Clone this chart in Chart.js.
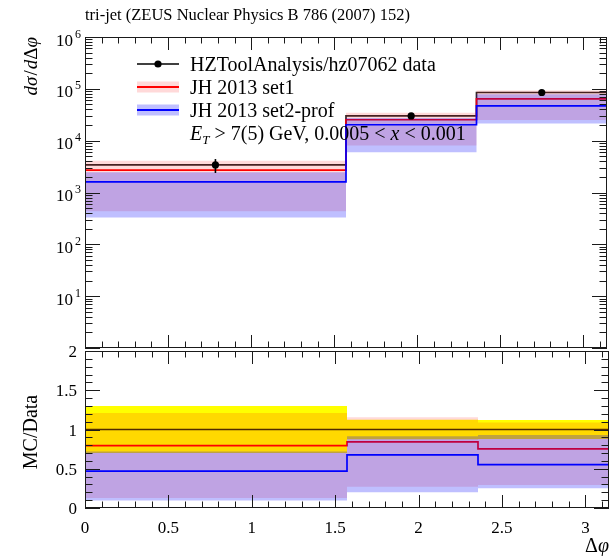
<!DOCTYPE html>
<html><head><meta charset="utf-8">
<script src="https://cdn.jsdelivr.net/npm/chart.js@4/dist/chart.umd.min.js"></script>
<style>
html,body{margin:0;padding:0;background:#fff;}
#wrap{position:relative;width:611px;height:556px;overflow:hidden;}
#c1{position:absolute;left:0;top:0;}
#c2{position:absolute;left:0;top:340px;}
</style></head><body>
<div id="wrap"><canvas id="c1" width="611" height="352"></canvas><canvas id="c2" width="611" height="216"></canvas></div>
<script>
// ---- data ----
const binEdges   = [0, 1.5708, 2.3562, 3.1416];
const binCenters = [0.785, 1.963, 2.749];
const dataValues = [3400, 30000, 85000];
const dataErrors = [1020, 3700, 10200];
const set1Values = [2700, 25300, 64000];
const set1Lower  = [435, 8100, 25000];
const set1Upper  = [4110, 34700, 92600];
const set2Values = [1600, 20300, 47000];
const set2Lower  = [330, 6000, 21400];
const set2Upper  = [2450, 27400, 79000];
const mainYExponents = [1, 2, 3, 4, 5, 6];
const ratioYTicks = ['0', '0.5', '1', '1.5', '2'];
const xTickLabels = ['0', '0.5', '1', '1.5', '2', '2.5', '3'];
const titleText = 'tri-jet (ZEUS Nuclear Physics B 786 (2007) 152)';
const legendLabels = ['HZToolAnalysis/hz07062 data', 'JH 2013 set1', 'JH 2013 set2-prof'];

const FONT = '"Liberation Serif", "DejaVu Serif", serif';

function stepPoints(vals){
  const p = vals.map((v,i)=>({x:binEdges[i], y:v}));
  p.push({x:binEdges[binEdges.length-1], y:vals[vals.length-1]});
  return p;
}
const NONE = 'rgba(0,0,0,0)';
const STEP = 'before';
function bandLower(vals, order){ return {data:stepPoints(vals), stepped:STEP, borderColor:NONE, borderWidth:0, pointRadius:0, fill:false, order}; }
function bandUpper(vals, target, color, order){ return {data:stepPoints(vals), stepped:STEP, borderColor:NONE, borderWidth:0, pointRadius:0, fill:{target}, backgroundColor:color, order}; }
function stepLine(vals, color, order, w){ return {data:stepPoints(vals), stepped:STEP, borderColor:color, borderWidth:w||1.7, pointRadius:0, fill:false, order}; }

const RED_BAND = 'rgba(255,0,0,0.15)';
const BLUE_BAND = 'rgba(0,0,255,0.25)';

function line(ctx,x1,y1,x2,y2){ctx.beginPath();ctx.moveTo(x1,y1);ctx.lineTo(x2,y2);ctx.stroke();}

function frameAndTicks(chart, yMaj, yMin, xMaj, xMin){
  const {ctx, chartArea:a} = chart; const sx = chart.scales.x, sy = chart.scales.y;
  ctx.save();
  ctx.strokeStyle = '#1a1a1a'; ctx.lineWidth = 1;
  const MAJ = 15, MIN = 7.5, XMAJ = 13, XMIN = 6.5;
  yMaj.forEach(v=>{const p=Math.round(sy.getPixelForValue(v))+0.5; line(ctx,a.left,p,a.left+MAJ,p); line(ctx,a.right,p,a.right-MAJ,p);});
  yMin.forEach(v=>{const p=Math.round(sy.getPixelForValue(v))+0.5; line(ctx,a.left,p,a.left+MIN,p); line(ctx,a.right,p,a.right-MIN,p);});
  xMaj.forEach(v=>{const p=Math.round(sx.getPixelForValue(v))+0.5; line(ctx,p,a.bottom,p,a.bottom-XMAJ); line(ctx,p,a.top,p,a.top+XMAJ);});
  xMin.forEach(v=>{const p=Math.round(sx.getPixelForValue(v))+0.5; line(ctx,p,a.bottom,p,a.bottom-XMIN); line(ctx,p,a.top,p,a.top+XMIN);});
  ctx.strokeRect(a.left+0.5, a.top+0.5, a.right-a.left-1, a.bottom-a.top-1);
  ctx.restore();
}
const xMajorVals = xTickLabels.map(Number);
const xMinorVals = []; for(let i=1;i<=31;i++){ if(i%5!==0) xMinorVals.push(i/10); }

// ---- main chart ----
const mainPlugin = {
  id:'mainDecor',
  afterDatasetsDraw(chart){
    const {ctx} = chart; const sx=chart.scales.x, sy=chart.scales.y;
    ctx.save(); ctx.strokeStyle='#000'; ctx.lineWidth=1.6;
    binCenters.forEach((c,i)=>{
      const px=sx.getPixelForValue(c);
      line(ctx,px,sy.getPixelForValue(dataValues[i]-dataErrors[i]),px,sy.getPixelForValue(dataValues[i]+dataErrors[i]));
    });
    ctx.restore();
  },
  afterDraw(chart){
    const {ctx} = chart; const sy=chart.scales.y;
    const yMaj=[], yMin=[];
    for(let e=0;e<=6;e++){ yMaj.push(Math.pow(10,e)); if(e<6) for(let k=2;k<=9;k++) yMin.push(k*Math.pow(10,e)); }
    frameAndTicks(chart, yMaj, yMin, xMajorVals, xMinorVals);
    ctx.save();
    ctx.fillStyle='#000';
    // y tick labels
    mainYExponents.forEach(e=>{
      const y = sy.getPixelForValue(Math.pow(10,e));
      ctx.font = '12px '+FONT; const sup=String(e); const sw=ctx.measureText(sup).width;
      ctx.textAlign='left'; ctx.fillText(sup, 81-sw, y+0.5);
      ctx.font = '17px '+FONT; ctx.textAlign='right'; ctx.fillText('10', 81-sw-2, y+8.5);
    });
    // title
    ctx.font = '16.5px '+FONT; ctx.textAlign='left'; ctx.fillText(titleText, 85, 20);
    // y axis title
    ctx.save(); ctx.translate(37, 37); ctx.rotate(-Math.PI/2);
    ctx.textAlign='left';
    const parts=[['d','italic'],['σ','italic'],['/',''],['d','italic'],['Δ',''],['φ','italic']];
    let total=0; parts.forEach(p=>{ctx.font=(p[1]?p[1]+' ':'')+'19px '+FONT; total+=ctx.measureText(p[0]).width+ (p[0]==='/'?2:0);});
    let xx=-total;
    parts.forEach(p=>{ctx.font=(p[1]?p[1]+' ':'')+'19px '+FONT; ctx.fillText(p[0], xx + (p[0]==='/'?1:0), 0); xx+=ctx.measureText(p[0]).width+(p[0]==='/'?2:0);});
    ctx.restore();
    // legend
    const LX0=137, LX1=179, TX=190;
    ctx.font='20px '+FONT; ctx.textAlign='left';
    // row 1 data
    ctx.strokeStyle='#000'; ctx.lineWidth=1.7; line(ctx,LX0,64,LX1,64);
    ctx.beginPath(); ctx.arc(158,64,3.6,0,Math.PI*2); ctx.fill();
    ctx.fillText(legendLabels[0], TX, 70.5);
    // row 2 set1
    ctx.fillStyle=RED_BAND; ctx.fillRect(LX0,81.5,LX1-LX0,11);
    ctx.strokeStyle='#ff0000'; ctx.lineWidth=1.8; line(ctx,LX0,87,LX1,87);
    ctx.fillStyle='#000'; ctx.fillText(legendLabels[1], TX, 93.5);
    // row 3 set2
    ctx.fillStyle=BLUE_BAND; ctx.fillRect(LX0,104.5,LX1-LX0,11);
    ctx.strokeStyle='#0000ff'; ctx.lineWidth=1.8; line(ctx,LX0,110,LX1,110);
    ctx.fillStyle='#000'; ctx.fillText(legendLabels[2], TX, 116.5);
    // row 4 cuts text
    let cx=TX; const by=139.5;
    const seg=(t,f,dy)=>{ctx.font=f; ctx.fillText(t,cx,by+(dy||0)); cx+=ctx.measureText(t).width;};
    seg('E','italic 20px '+FONT);
    seg('T','italic 13px '+FONT,4);
    seg(' > 7(5) GeV, 0.0005 < ','20px '+FONT);
    seg('x','italic 20px '+FONT);
    seg(' < 0.001','20px '+FONT);
    ctx.restore();
  }
};

new Chart(document.getElementById('c1'), {
  type:'line',
  data:{datasets:[
    stepLine(dataValues,'rgba(0,0,0,0.85)',7,1.7),          //0
    bandLower(set1Lower,20),                                 //1
    bandUpper(set1Upper,1,RED_BAND,6),                       //2
    stepLine(set1Values,'#ff0000',5),                        //3
    bandLower(set2Lower,21),                                 //4
    bandUpper(set2Upper,4,BLUE_BAND,4),                      //5
    stepLine(set2Values,'#0000ff',3),                        //6
    {data:binCenters.map((c,i)=>({x:c,y:dataValues[i]})), showLine:false, pointRadius:3.6, pointBackgroundColor:'#000', pointBorderWidth:0, borderColor:'#000', order:1}
  ]},
  options:{
    responsive:false, animation:false, devicePixelRatio:1,
    layout:{padding:{left:85,right:2,top:37,bottom:1}},
    plugins:{legend:{display:false},tooltip:{enabled:false}},
    scales:{
      x:{type:'linear',min:0,max:3.1416,display:false},
      y:{type:'logarithmic',min:1,max:1e6,display:false}
    }
  },
  plugins:[mainPlugin]
});

// ---- ratio chart ----
const ones = dataValues.map(()=>1);
const dataLo = dataValues.map((v,i)=>1-dataErrors[i]/v);
const dataHi = dataValues.map((v,i)=>1+dataErrors[i]/v);
const r = (arr)=>arr.map((v,i)=>v/dataValues[i]);

const ratioPlugin = {
  id:'ratioDecor',
  afterDraw(chart){
    const {ctx, chartArea:a} = chart; const sx=chart.scales.x, sy=chart.scales.y;
    const yMin=[]; for(let i=1;i<20;i++){ if(i%5!==0) yMin.push(i/10); }
    frameAndTicks(chart, ratioYTicks.map(Number), yMin, xMajorVals, xMinorVals);
    ctx.save(); ctx.fillStyle='#000';
    ctx.font='17px '+FONT;
    ctx.textAlign='right';
    ratioYTicks.forEach(t=>{ ctx.fillText(t, 77, sy.getPixelForValue(Number(t))+6); });
    ctx.textAlign='center';
    xTickLabels.forEach(t=>{ ctx.fillText(t, sx.getPixelForValue(Number(t)), 193); });
    // x title
    ctx.textAlign='right';
    ctx.font='italic 20px '+FONT; const phiW = ctx.measureText('φ').width;
    ctx.fillText('φ', 609, 212);
    ctx.font='20px '+FONT; ctx.fillText('Δ', 609-phiW, 212);
    // y title
    ctx.save(); ctx.translate(37, 92); ctx.rotate(-Math.PI/2);
    ctx.textAlign='center'; ctx.font='20px '+FONT; ctx.fillText('MC/Data', 0, 0);
    ctx.restore();
    ctx.restore();
  }
};

new Chart(document.getElementById('c2'), {
  type:'line',
  data:{datasets:[
    bandLower(dataLo,30),                                  //0
    bandUpper(dataHi,0,'#ffff00',9),                       //1
    stepLine(ones,'rgba(0,0,0,0.8)',8,1.6),                //2
    bandLower(r(set1Lower),31),                            //3
    bandUpper(r(set1Upper),3,RED_BAND,6),                  //4
    stepLine(r(set1Values),'#ff0000',5),                   //5
    bandLower(r(set2Lower),32),                            //6
    bandUpper(r(set2Upper),6,BLUE_BAND,4),                 //7
    stepLine(r(set2Values),'#0000ff',3)                    //8
  ]},
  options:{
    responsive:false, animation:false, devicePixelRatio:1,
    layout:{padding:{left:85,right:2,top:11,bottom:48}},
    plugins:{legend:{display:false},tooltip:{enabled:false}},
    scales:{
      x:{type:'linear',min:0,max:3.1416,display:false},
      y:{type:'linear',min:0,max:2,display:false}
    }
  },
  plugins:[ratioPlugin]
});
</script>
</body></html>
